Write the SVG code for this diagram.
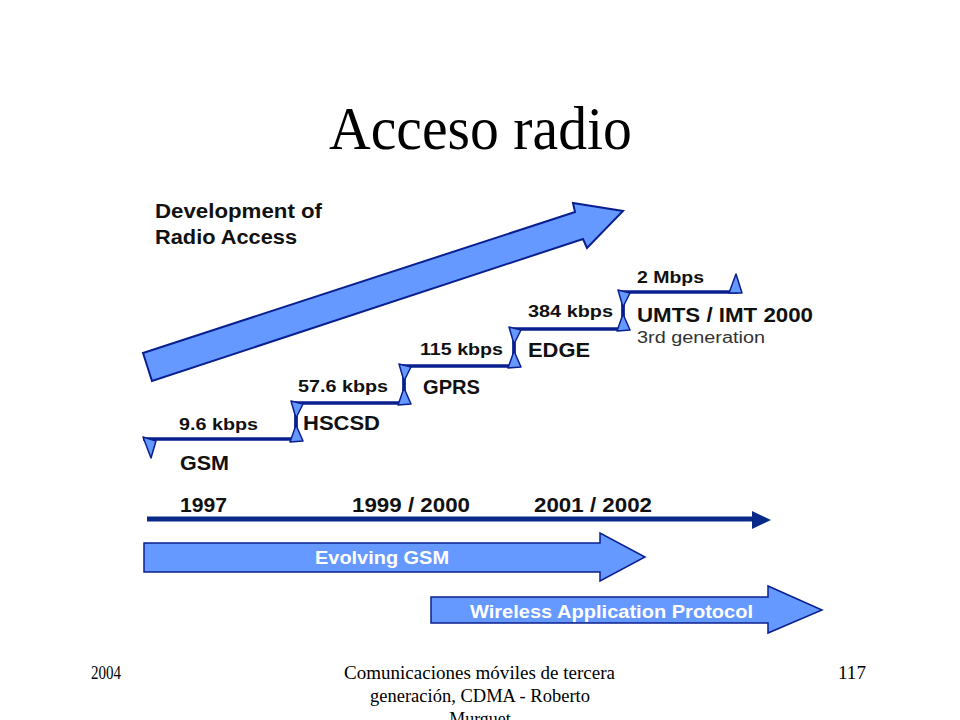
<svg xmlns="http://www.w3.org/2000/svg" xmlns:xlink="http://www.w3.org/1999/xlink" width="960" height="720" viewBox="0 0 960 720">
<style>
.lbl{font-family:"Liberation Sans",Arial,sans-serif;font-weight:bold;fill:#111}
.wht{font-family:"Liberation Sans",Arial,sans-serif;font-weight:bold;fill:#fff}
.reg{font-family:"Liberation Sans",Arial,sans-serif;fill:#333}
.ser{font-family:"Liberation Serif","Times New Roman",serif;fill:#000}
.fill{fill:#6699ff;stroke:#0a1f8f;stroke-width:2;stroke-linejoin:miter}
.tri{fill:#6699ff;stroke:#0a1f8f;stroke-width:1.5;stroke-linejoin:round}
.stair{fill:none;stroke:#0a1f8f;stroke-width:3.5}
</style>
<defs>
<g id="step">
<line x1="0" y1="-37" x2="0" y2="0" stroke="#0a1f8f" stroke-width="3"/>
<polygon class="tri" points="-5,-39 7,-36 0,-22"/>
<polygon class="tri" points="0,-15 -6,2 7,1"/>
</g>
</defs>
<rect width="960" height="720" fill="#fff"/>
<text class="ser" x="329" y="149" font-size="61" textLength="303" lengthAdjust="spacingAndGlyphs">Acceso radio</text>

<g id="radio-access-arrow">
<polygon class="fill" points="143,353 575,212 573,203 623,211 587,248 583,239 152,381"/>
<text class="lbl" x="155" y="218" font-size="20" textLength="167" lengthAdjust="spacingAndGlyphs">Development of</text>
<text class="lbl" x="155" y="244" font-size="20" textLength="142" lengthAdjust="spacingAndGlyphs">Radio Access</text>
</g>

<g id="connectors">
<polyline class="stair" points="143,439 296,439 296,403 404,403 404,366 514,366 514,329 623,329 623,292 738,292"/>
<use xlink:href="#step" href="#step" x="296" y="440"/>
<use xlink:href="#step" href="#step" x="404" y="403"/>
<use xlink:href="#step" href="#step" x="514" y="366"/>
<use xlink:href="#step" href="#step" x="623" y="329"/>
<polygon class="tri" points="143,437 156,441 151,458"/>
<polygon class="tri" points="736,274 742,293 729,293"/>
</g>

<g id="gsm">
<text class="lbl" x="179" y="430" font-size="17" textLength="79" lengthAdjust="spacingAndGlyphs">9.6 kbps</text>
<text class="lbl" x="180" y="470" font-size="21" textLength="49" lengthAdjust="spacingAndGlyphs">GSM</text>
</g>
<g id="hscsd">
<text class="lbl" x="298" y="392" font-size="17" textLength="90" lengthAdjust="spacingAndGlyphs">57.6 kbps</text>
<text class="lbl" x="303" y="430" font-size="21" textLength="77" lengthAdjust="spacingAndGlyphs">HSCSD</text>
</g>
<g id="gprs">
<text class="lbl" x="420" y="355" font-size="17" textLength="83" lengthAdjust="spacingAndGlyphs">115 kbps</text>
<text class="lbl" x="423" y="394" font-size="21" textLength="57" lengthAdjust="spacingAndGlyphs">GPRS</text>
</g>
<g id="edge">
<text class="lbl" x="528" y="317" font-size="17" textLength="85" lengthAdjust="spacingAndGlyphs">384 kbps</text>
<text class="lbl" x="528" y="357" font-size="21" textLength="62" lengthAdjust="spacingAndGlyphs">EDGE</text>
</g>
<g id="umts">
<text class="lbl" x="637" y="283" font-size="17" textLength="67" lengthAdjust="spacingAndGlyphs">2 Mbps</text>
<text class="lbl" x="637" y="322" font-size="21" textLength="176" lengthAdjust="spacingAndGlyphs">UMTS / IMT 2000</text>
<text class="reg" x="637" y="343" font-size="16" textLength="128" lengthAdjust="spacingAndGlyphs">3rd generation</text>
</g>

<g id="timeline">
<line x1="147" y1="519" x2="754" y2="519" stroke="#0a2a8a" stroke-width="5"/>
<polygon points="752,511 771,520 752,529" fill="#0a2a8a"/>
<text class="lbl" x="180" y="512" font-size="21" textLength="47" lengthAdjust="spacingAndGlyphs">1997</text>
<text class="lbl" x="352" y="512" font-size="21" textLength="118" lengthAdjust="spacingAndGlyphs">1999 / 2000</text>
<text class="lbl" x="534" y="512" font-size="21" textLength="118" lengthAdjust="spacingAndGlyphs">2001 / 2002</text>
</g>

<g id="evolving-gsm">
<polygon class="fill" style="stroke-width:1.5" points="144,543 600,543 600,533 645,557 600,581 600,572 144,572"/>
<text class="wht" x="315" y="564" font-size="18" textLength="134" lengthAdjust="spacingAndGlyphs">Evolving GSM</text>
</g>

<g id="wap">
<polygon class="fill" style="stroke-width:1.5" points="431,597 768,597 768,586 822,610 768,633 768,623 431,623"/>
<text class="wht" x="470" y="618" font-size="18" textLength="283" lengthAdjust="spacingAndGlyphs">Wireless Application Protocol</text>
</g>

<g id="footer">
<text class="ser" x="91" y="679" font-size="18" textLength="30" lengthAdjust="spacingAndGlyphs">2004</text>
<text class="ser" x="344" y="679" font-size="18" textLength="271" lengthAdjust="spacingAndGlyphs">Comunicaciones móviles de tercera</text>
<text class="ser" x="370" y="702" font-size="18" textLength="220" lengthAdjust="spacingAndGlyphs">generación, CDMA - Roberto</text>
<text class="ser" x="480" y="725" font-size="18" text-anchor="middle">Murguet</text>
<text class="ser" x="838" y="679" font-size="18" textLength="28" lengthAdjust="spacingAndGlyphs">117</text>
</g>
</svg>
